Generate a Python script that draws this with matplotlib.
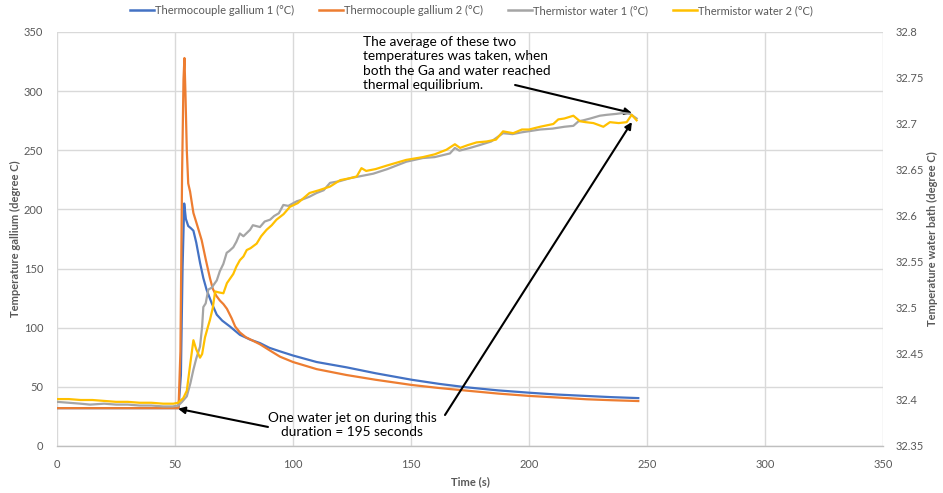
import matplotlib
matplotlib.use("Agg")
import matplotlib.pyplot as plt
from matplotlib.lines import Line2D

plt.rcParams['font.family'] = ['Lato', 'DejaVu Sans']

# ---------------- data ----------------
t_ga1 = [0, 10, 20, 30, 40, 50, 51.5, 52.5, 53.2, 53.9, 54.6, 55.6, 56.8, 57.8, 59, 60.6, 62,
         63.4, 65.5, 67.7, 70, 73.3, 77.5, 81.8, 86, 90, 94.5, 100, 110, 122.7, 135, 150.3,
         162, 173.6, 187, 200.4, 212, 224.4, 235, 246.3]
ga1 = [32, 32, 32, 32, 32, 32, 32, 60, 150, 205, 192, 186, 184, 182, 172, 155, 142,
       132, 121, 111, 106, 101, 94, 90, 87, 83, 80, 76.5, 71, 66.5, 61.5, 56,
       52.5, 49.6, 47, 45, 43.5, 42.3, 41.3, 40.5]

t_ga2 = [0, 10, 20, 30, 40, 50, 51.5, 52.3, 53, 53.6, 54, 54.4, 55, 55.6, 56.4, 57.8, 59.5,
         61.3, 63, 64.8, 66, 67.5, 69, 70.5, 72, 74, 75.5, 77.5, 80, 82, 86, 90, 94.5, 100,
         110, 122.7, 135, 150.3, 162, 173.6, 187, 200.4, 212, 224.4, 235, 246.3]
ga2 = [32, 32, 32, 32, 32, 32, 32, 80, 230, 310, 328, 300, 250, 222, 215, 197, 186,
       174, 158, 142, 133, 127, 123, 120, 116, 108, 101, 96, 92, 90, 86, 81, 75.5, 71,
       65, 60, 56, 51.6, 49, 46.8, 44.3, 42.3, 41, 39.5, 38.7, 38]

t_w1 = [0, 5, 10, 14, 20, 25, 30, 35, 40, 45, 49, 51.4, 53, 55, 56.5, 57.8, 59, 60.6, 61.5,
        62, 63, 64.1, 65.5, 67.7, 69, 70.5, 71.9, 73, 74.7, 76, 77.5, 79, 81.8, 83, 86, 88,
        90.3, 92, 94, 95.9, 98, 101.6, 104, 107, 110, 113, 115.7, 120, 124, 128, 134, 140,
        148, 155, 160, 166.5, 168.6, 170.5, 175, 179, 184, 189, 193, 197, 204.7, 210, 215,
        218.8, 221, 223, 226, 230, 233, 237, 240, 242.8, 245.6]
w1 = [32.398, 32.397, 32.396, 32.395, 32.396, 32.395, 32.395, 32.394, 32.394, 32.393, 32.393,
      32.394, 32.398, 32.404, 32.418, 32.433, 32.445, 32.458, 32.48, 32.501, 32.505, 32.52,
      32.522, 32.53, 32.54, 32.548, 32.56, 32.562, 32.566, 32.572, 32.581, 32.578, 32.585,
      32.59, 32.588, 32.594, 32.596, 32.6, 32.603, 32.612, 32.611, 32.616, 32.618, 32.621,
      32.625, 32.628, 32.636, 32.638, 32.641, 32.643, 32.646, 32.651, 32.659, 32.663, 32.664,
      32.668, 32.674, 32.671, 32.674, 32.677, 32.681, 32.69, 32.689, 32.691, 32.694, 32.695,
      32.697, 32.698, 32.703, 32.704, 32.706, 32.709, 32.71, 32.711, 32.712, 32.711, 32.706]

t_w2 = [0, 5, 10, 15, 20, 25, 30, 35, 40, 45, 49.3, 51.3, 53.5, 55, 56.5, 57.8, 59, 60.6, 61.5,
        62.7, 64, 64.8, 66, 67, 68.5, 70.5, 72, 74.7, 76, 77.5, 79, 80.4, 82, 84.6, 86.5, 88.8,
        91, 93, 96, 98.7, 102, 107, 111, 115.7, 120, 124, 127, 129, 131, 135, 140, 148, 155,
        160, 165, 168.6, 170.8, 174, 177.8, 182, 186, 189, 193.3, 197, 200, 204.7, 210.3,
        212.4, 215, 218.8, 221.6, 224, 227.3, 231.5, 234.3, 238, 241.4, 243.5, 245.6]
w2 = [32.401, 32.401, 32.400, 32.400, 32.399, 32.398, 32.398, 32.397, 32.397, 32.396, 32.396,
      32.397, 32.402, 32.41, 32.44, 32.465, 32.455, 32.446, 32.45, 32.468, 32.48, 32.487, 32.5,
      32.518, 32.517, 32.516, 32.527, 32.537, 32.545, 32.552, 32.556, 32.563, 32.565, 32.57,
      32.578, 32.585, 32.59, 32.596, 32.602, 32.61, 32.614, 32.625, 32.628, 32.632, 32.639,
      32.641, 32.643, 32.652, 32.649, 32.651, 32.655, 32.661, 32.664, 32.667, 32.672, 32.678,
      32.674, 32.677, 32.68, 32.681, 32.683, 32.692, 32.69, 32.694, 32.694, 32.697, 32.7,
      32.705, 32.706, 32.709, 32.703, 32.702, 32.701, 32.697, 32.702, 32.701, 32.702, 32.71,
      32.704]

x_ticks = [0, 50, 100, 150, 200, 250, 300, 350]
y_left_ticks = [0, 50, 100, 150, 200, 250, 300, 350]
y_right_ticks = [32.35, 32.4, 32.45, 32.5, 32.55, 32.6, 32.65, 32.7, 32.75, 32.8]
labels = ["Thermocouple gallium 1 (\u00b0C)", "Thermocouple gallium 2 (\u00b0C)",
          "Thermistor water 1 (\u00b0C)", "Thermistor water 2 (\u00b0C)"]

# ---------------- style ----------------
c_blue, c_orange, c_gray, c_yellow = "#4472C4", "#ED7D31", "#A5A5A5", "#FFC000"
tick_col = "#595959"
grid_col = "#D9D9D9"

fig = plt.figure(figsize=(9.43, 4.93), dpi=100)
ax = fig.add_axes([57/943, 47/493, 826/943, 414/493])
ax2 = ax.twinx()

ax.plot(t_ga1, ga1, color=c_blue, lw=1.6, zorder=3)
ax.plot(t_ga2, ga2, color=c_orange, lw=1.6, zorder=3)
ax2.plot(t_w1, w1, color=c_gray, lw=1.6)
ax2.plot(t_w2, w2, color=c_yellow, lw=1.6)

ax.set_xlim(0, 350)
ax.set_ylim(0, 350)
ax2.set_ylim(32.35, 32.8)
ax.set_xticks(x_ticks)
ax.set_yticks(y_left_ticks)
ax2.set_yticks(y_right_ticks)
ax2.set_yticklabels(["%g" % v for v in y_right_ticks])

ax.grid(True, color=grid_col, lw=1.0)
ax.set_axisbelow(True)
for a in (ax, ax2):
    for s in a.spines.values():
        s.set_visible(False)
    a.tick_params(length=0, labelsize=8, colors=tick_col)
ax.spines['bottom'].set_visible(True)
ax.spines['bottom'].set_color("#BFBFBF")
ax.spines['bottom'].set_linewidth(1.0)
ax.tick_params(axis='x', pad=9)
ax.tick_params(axis='y', pad=10)
ax2.tick_params(axis='y', pad=9)

ax.set_xlabel("Time (s)", fontsize=8, fontweight='bold', color=tick_col, labelpad=5)
ax.set_ylabel("Temperature gallium (degree C)", fontsize=8, fontweight='bold', color=tick_col, labelpad=2)
ax2.set_ylabel("Temperature water bath (degree C)", fontsize=8, fontweight='bold', color=tick_col, labelpad=2)

# annotations (on left axis coordinates)
ax.text(129.7, 347, "The average of these two\ntemperatures was taken, when\nboth the Ga and water reached\nthermal equilibrium.",
        ha='left', va='top', fontsize=9.8, color='black', linespacing=1.25, zorder=5)
ax.text(125, 29, "One water jet on during this\nduration = 195 seconds",
        ha='center', va='top', fontsize=9.8, color='black', linespacing=1.2,
        multialignment='center', zorder=5)
ap = dict(arrowstyle='-|>', color='black', lw=1.5, mutation_scale=10, shrinkA=0, shrinkB=0)
ax.annotate("", xy=(243.6, 281.5), xytext=(194.1, 305.2), arrowprops=ap, zorder=6)
ax.annotate("", xy=(243.6, 273.9), xytext=(164.4, 26.2), arrowprops=ap, zorder=6)
ax.annotate("", xy=(51.3, 31.5), xytext=(89.4, 16.1), arrowprops=ap, zorder=6)

handles = [Line2D([], [], color=c, lw=1.8) for c in (c_blue, c_orange, c_gray, c_yellow)]
fig.legend(handles, labels, ncol=4, loc='upper center', bbox_to_anchor=(0.5, 1.01),
           frameon=False, fontsize=8, handlelength=2.2, handletextpad=0.1,
           columnspacing=2.2, labelcolor=tick_col)

fig.savefig("out.png", dpi=100)
